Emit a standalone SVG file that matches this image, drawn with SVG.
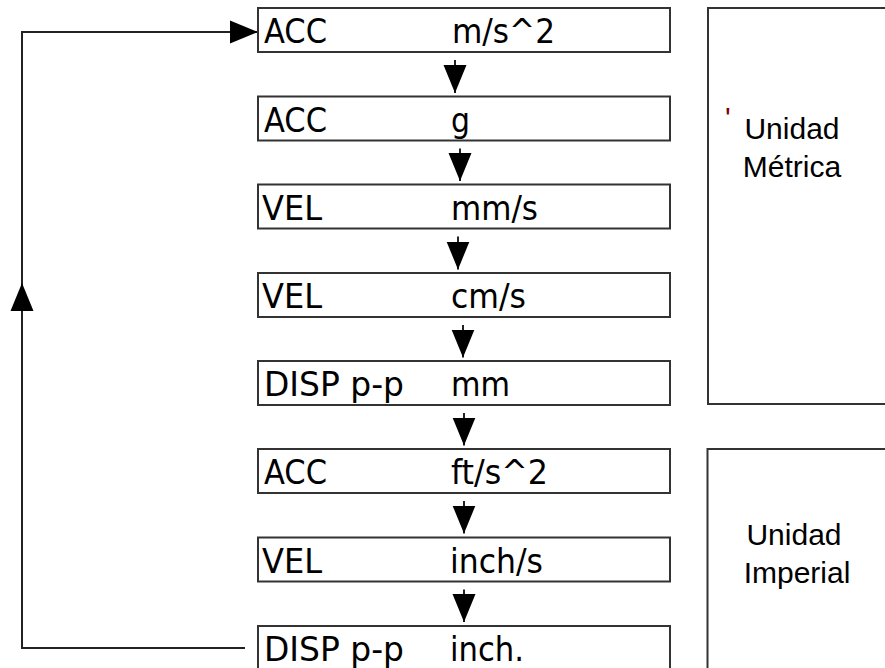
<svg xmlns="http://www.w3.org/2000/svg" width="885" height="668" viewBox="0 0 885 668">
<style>
  .box { fill: #ffffff; stroke: #333333; stroke-width: 2; }
  .grp { fill: none; stroke: #333333; stroke-width: 2; }
  .lbl { font-family: "DejaVu Sans Condensed", "DejaVu Sans", sans-serif; font-size: 34px; fill: #000000; }
  .side { font-family: "Liberation Sans", Arial, sans-serif; font-size: 30px; fill: #000000; text-anchor: middle; }
  .conn { fill: none; stroke: #222222; stroke-width: 2; }
</style>
<defs>
  <marker id="ah" markerUnits="userSpaceOnUse" markerWidth="30" markerHeight="24" refX="28" refY="12" orient="auto" viewBox="0 0 30 24">
    <path d="M0,0.5 L28,12 L0,23.5 Z" fill="#000000"/>
  </marker>
</defs>

<g id="connectors">
  <path class="conn" d="M245,648 H22 V283" marker-end="url(#ah)"/>
  <path class="conn" d="M22,283 V32 H258" marker-end="url(#ah)"/>
  <path class="conn" d="M455,60 V93" marker-end="url(#ah)"/>
  <path class="conn" d="M460,148.5 V181" marker-end="url(#ah)"/>
  <path class="conn" d="M458,236.5 V269.5" marker-end="url(#ah)"/>
  <path class="conn" d="M463,325 V357.5" marker-end="url(#ah)"/>
  <path class="conn" d="M464,413 V445.5" marker-end="url(#ah)"/>
  <path class="conn" d="M464,501 V533.5" marker-end="url(#ah)"/>
  <path class="conn" d="M464,589.5 V622" marker-end="url(#ah)"/>
</g>

<g id="metric">
  <rect class="grp" x="708" y="8" width="190" height="396"/>
  <text x="725" y="127.5" style="font-family:'Liberation Sans',Arial,sans-serif;font-size:30px;fill:#800000">'</text>
  <text class="side" x="792" y="139">Unidad</text>
  <text class="side" x="792" y="176.5">Métrica</text>
</g>
<g id="imperial">
  <rect class="grp" x="707.5" y="449" width="190" height="240"/>
  <text class="side" x="794" y="545">Unidad</text>
  <text class="side" x="797" y="582.5">Imperial</text>
</g>

<g id="n1">
  <rect class="box" x="258" y="8" width="412" height="44"/>
  <text class="lbl" x="264" y="43" textLength="63" lengthAdjust="spacingAndGlyphs">ACC</text>
  <text class="lbl" x="452" y="43" textLength="103" lengthAdjust="spacingAndGlyphs">m/s^2</text>
</g>
<g id="n2">
  <rect class="box" x="258" y="96.5" width="412" height="44"/>
  <text class="lbl" x="264" y="131.5" textLength="63" lengthAdjust="spacingAndGlyphs">ACC</text>
  <text class="lbl" x="451" y="131.5" textLength="19" lengthAdjust="spacingAndGlyphs">g</text>
</g>
<g id="n3">
  <rect class="box" x="258" y="184.5" width="412" height="44"/>
  <text class="lbl" x="262" y="219.5" textLength="60" lengthAdjust="spacingAndGlyphs">VEL</text>
  <text class="lbl" x="451" y="219.5" textLength="87" lengthAdjust="spacingAndGlyphs">mm/s</text>
</g>
<g id="n4">
  <rect class="box" x="258" y="273" width="412" height="44"/>
  <text class="lbl" x="262" y="308" textLength="60" lengthAdjust="spacingAndGlyphs">VEL</text>
  <text class="lbl" x="451" y="308" textLength="75" lengthAdjust="spacingAndGlyphs">cm/s</text>
</g>
<g id="n5">
  <rect class="box" x="258" y="361" width="412" height="44"/>
  <text class="lbl" x="264" y="396" textLength="140" lengthAdjust="spacingAndGlyphs">DISP p-p</text>
  <text class="lbl" x="451" y="396" textLength="59" lengthAdjust="spacingAndGlyphs">mm</text>
</g>
<g id="n6">
  <rect class="box" x="258" y="449" width="412" height="44"/>
  <text class="lbl" x="264" y="484" textLength="63" lengthAdjust="spacingAndGlyphs">ACC</text>
  <text class="lbl" x="451" y="484" textLength="97" lengthAdjust="spacingAndGlyphs">ft/s^2</text>
</g>
<g id="n7">
  <rect class="box" x="258" y="537.5" width="412" height="44"/>
  <text class="lbl" x="262" y="572.5" textLength="60" lengthAdjust="spacingAndGlyphs">VEL</text>
  <text class="lbl" x="450" y="572.5" textLength="93" lengthAdjust="spacingAndGlyphs">inch/s</text>
</g>
<g id="n8">
  <rect class="box" x="258" y="626" width="412" height="44"/>
  <text class="lbl" x="264" y="661" textLength="140" lengthAdjust="spacingAndGlyphs">DISP p-p</text>
  <text class="lbl" x="450" y="661" textLength="74" lengthAdjust="spacingAndGlyphs">inch.</text>
</g>
</svg>
